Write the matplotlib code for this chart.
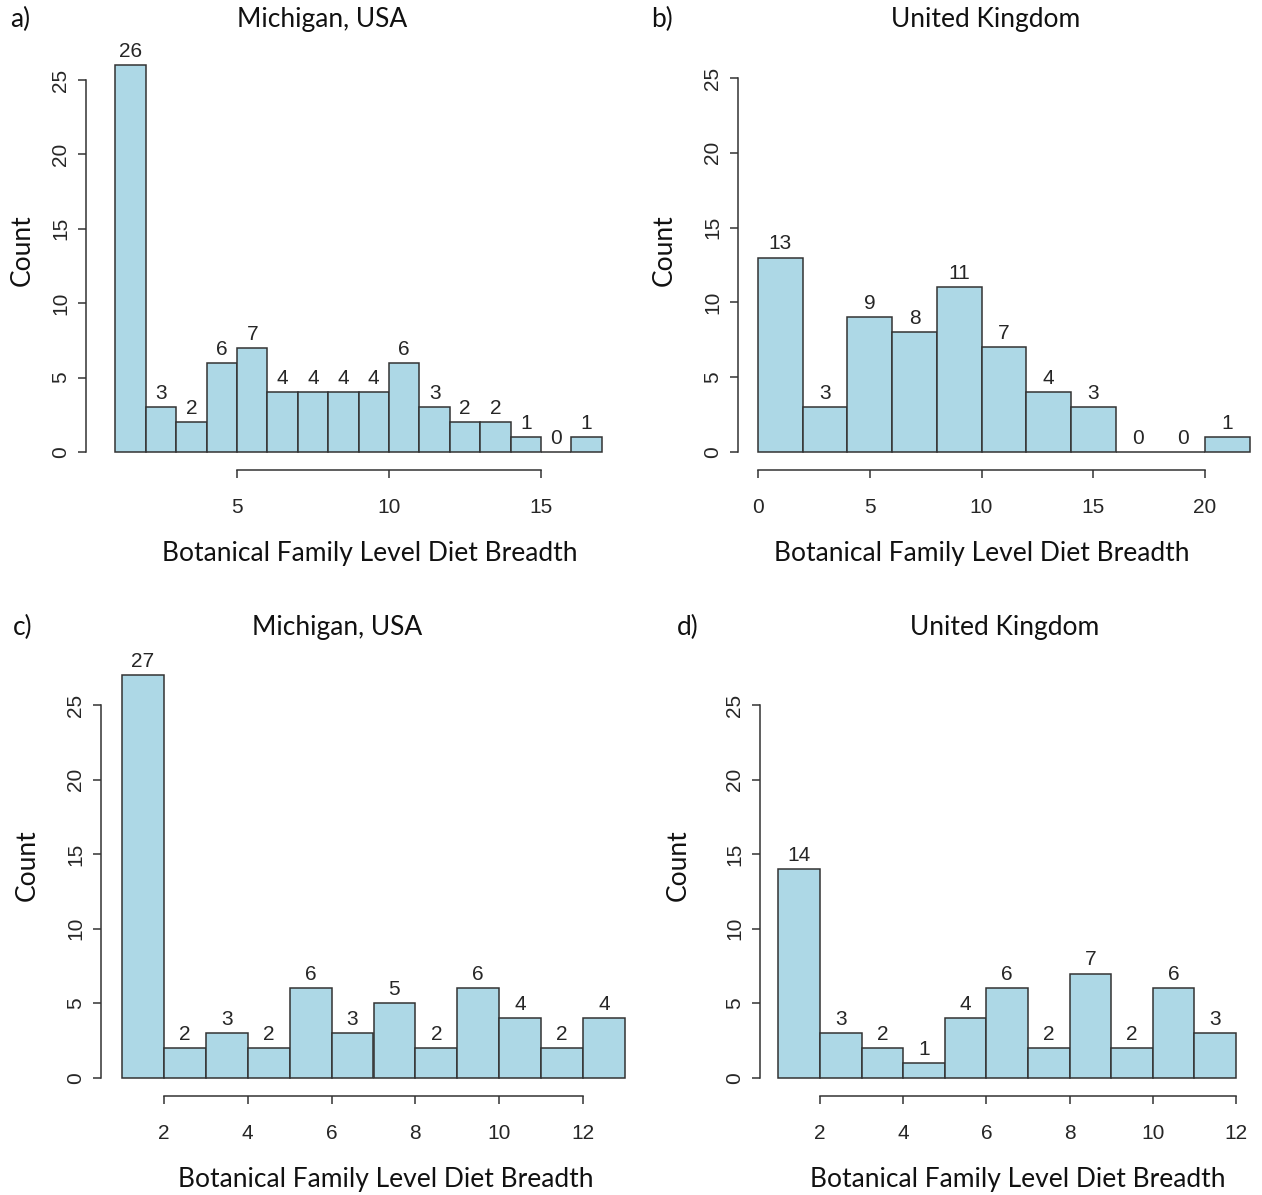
import matplotlib
matplotlib.use("Agg")
import matplotlib.pyplot as plt

W, H = 1262, 1195

# histogram bins (left edges + final right edge) and counts
a_edges = [1, 2, 3, 4, 5, 6, 7, 8, 9, 10, 11, 12, 13, 14, 15, 16, 17]
a_counts = [26, 3, 2, 6, 7, 4, 4, 4, 4, 6, 3, 2, 2, 1, 0, 1]
b_edges = [0, 2, 4, 6, 8, 10, 12, 14, 16, 18, 20, 22]
b_counts = [13, 3, 9, 8, 11, 7, 4, 3, 0, 0, 1]
c_edges = [1, 2, 3, 4, 5, 6, 7, 8, 9, 10, 11, 12, 13]
c_counts = [27, 2, 3, 2, 6, 3, 5, 2, 6, 4, 2, 4]
d_edges = [1, 2, 3, 4, 5, 6, 7, 8, 9, 10, 11, 12]
d_counts = [14, 3, 2, 1, 4, 6, 2, 7, 2, 6, 3]

a_xticks = [5, 10, 15]
b_xticks = [0, 5, 10, 15, 20]
cd_xticks = [2, 4, 6, 8, 10, 12]
yticks = [0, 5, 10, 15, 20, 25]

panels = [
    ("a)", "Michigan, USA", a_edges, a_counts, a_xticks),
    ("b)", "United Kingdom", b_edges, b_counts, b_xticks),
    ("c)", "Michigan, USA", c_edges, c_counts, cd_xticks),
    ("d)", "United Kingdom", d_edges, d_counts, cd_xticks),
]

# pixel layout: axes box, x mapping (px of x=0, px per unit), y mapping (px of y=0, px per unit),
# positions of tag, title, xlabel, ylabel
layout = [
    dict(box=(86, 35, 630, 470), x0=85.0, xs=30.4, y0=452, ys=14.88,
         tag=(10, 19), title=(322, 19), xlab=(370, 554), ylab=(22, 250)),
    dict(box=(738, 35, 1258, 470), x0=758.0, xs=22.35, y0=452, ys=14.96,
         tag=(651, 19), title=(986, 19), xlab=(982, 554), ylab=(664, 250)),
    dict(box=(101, 640, 632, 1096), x0=80.2, xs=41.9, y0=1078, ys=14.92,
         tag=(13, 627), title=(337, 627), xlab=(386, 1179), ylab=(27, 865)),
    dict(box=(760, 640, 1245, 1096), x0=736.8, xs=41.6, y0=1078, ys=14.92,
         tag=(677, 627), title=(1005, 627), xlab=(1018, 1179), ylab=(678, 865)),
]

R_FONT = "Liberation Sans"
DOC_FONT = "Lato"
TXT = "#262626"
R_SIZE = 15
DOC_SIZE = 19

fig = plt.figure(figsize=(W / 100, H / 100), dpi=100)

for (tag, title, edges, counts, xticks), lay in zip(panels, layout):
    l, t, r, b = lay["box"]
    ax = fig.add_axes([l / W, 1 - b / H, (r - l) / W, (b - t) / H])
    ax.set_xlim((l - lay["x0"]) / lay["xs"], (r - lay["x0"]) / lay["xs"])
    ax.set_ylim((lay["y0"] - b) / lay["ys"], (lay["y0"] - t) / lay["ys"])

    lefts = edges[:-1]
    widths = [edges[i + 1] - edges[i] for i in range(len(lefts))]
    ax.bar(lefts, counts, width=widths, align="edge", color="lightblue",
           edgecolor="#333333", linewidth=1.1, clip_on=False)
    for x, w, c in zip(lefts, widths, counts):
        ax.annotate(str(c), (x + w / 2, c), xytext=(0, 3), textcoords="offset points",
                    ha="center", va="bottom", fontsize=R_SIZE, family=R_FONT,
                    color=TXT, annotation_clip=False)

    for s in ("top", "right"):
        ax.spines[s].set_visible(False)
    for s in ("left", "bottom"):
        ax.spines[s].set_color("#333333")
        ax.spines[s].set_linewidth(1.1)
    ax.spines["left"].set_bounds(yticks[0], yticks[-1])
    ax.spines["bottom"].set_bounds(xticks[0], xticks[-1])
    ax.set_xticks(xticks)
    ax.set_yticks(yticks)
    ax.tick_params(axis="both", direction="out", length=5.5, width=1.1,
                   color="#333333", labelcolor=TXT, labelsize=R_SIZE)
    ax.tick_params(axis="x", pad=15)
    ax.tick_params(axis="y", pad=6, labelrotation=90)
    for lbl in ax.get_yticklabels():
        lbl.set_verticalalignment("center")
        lbl.set_family(R_FONT)
    for lbl in ax.get_xticklabels():
        lbl.set_family(R_FONT)
    ax.patch.set_visible(False)

    fig.text(lay["tag"][0] / W, 1 - lay["tag"][1] / H, tag, ha="left", va="center",
             fontsize=DOC_SIZE, family=DOC_FONT, color="#111111")
    fig.text(lay["title"][0] / W, 1 - lay["title"][1] / H, title, ha="center", va="center",
             fontsize=DOC_SIZE, family=DOC_FONT, color="#111111")
    fig.text(lay["xlab"][0] / W, 1 - lay["xlab"][1] / H, "Botanical Family Level Diet Breadth",
             ha="center", va="center", fontsize=DOC_SIZE, family=DOC_FONT, color="#111111")
    fig.text(lay["ylab"][0] / W, 1 - lay["ylab"][1] / H, "Count", ha="center", va="center",
             rotation=90, fontsize=DOC_SIZE, family=DOC_FONT, color="#111111")

fig.savefig("out.png", dpi=100)
